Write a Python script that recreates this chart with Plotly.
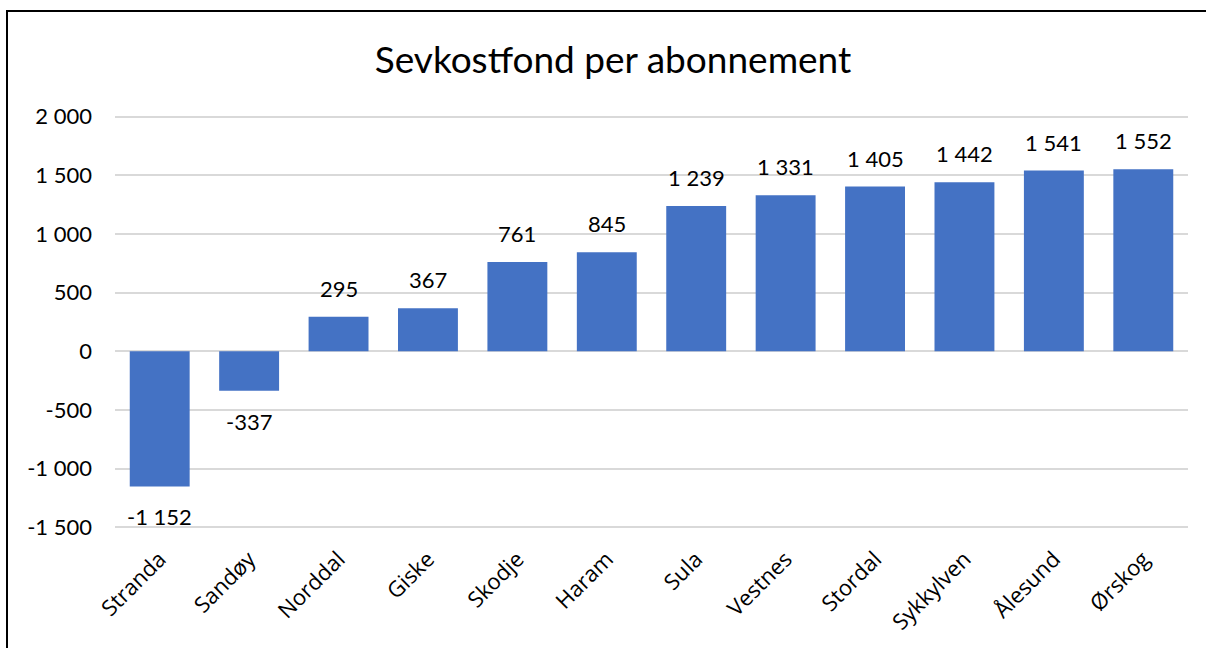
import plotly.graph_objects as go

kommuner = ['Stranda', 'Sandøy', 'Norddal', 'Giske', 'Skodje', 'Haram', 'Sula',
            'Vestnes', 'Stordal', 'Sykkylven', 'Ålesund', 'Ørskog']
verdier = [-1152, -337, 295, 367, 761, 845, 1239, 1331, 1405, 1442, 1541, 1552]

tick_vals = [-1500, -1000, -500, 0, 500, 1000, 1500, 2000]


def fmt(v):
    # norsk tusenskille med mellomrom
    s = f"{abs(v):,}".replace(",", " ")
    return ("-" if v < 0 else "") + s


etiketter = [fmt(v) for v in verdier]
tick_text = [fmt(v) for v in tick_vals]

fig = go.Figure()
fig.add_trace(go.Bar(
    x=kommuner,
    y=verdier,
    marker=dict(color='#4472C4', line=dict(width=0)),
))

# dataetiketter litt unna søylene, som i Excel
for k, v, t in zip(kommuner, verdier, etiketter):
    fig.add_annotation(
        x=k, y=v, text=t, showarrow=False,
        yanchor='bottom' if v >= 0 else 'top',
        yshift=13 if v >= 0 else -15,
        font=dict(family='Lato', size=22, color='#000000'),
    )

fig.update_layout(
    width=1206, height=648,
    margin=dict(l=115, r=18, t=112, b=116),
    paper_bgcolor='white', plot_bgcolor='white',
    showlegend=False,
    bargap=0.33,
    title=dict(text='Sevkostfond per abonnement', x=613 / 1206, xanchor='center',
               y=1 - 60 / 648, yanchor='middle',
               font=dict(family='Lato', size=37, color='#000000')),
    xaxis=dict(
        tickangle=-45,
        tickfont=dict(family='Open Sans', size=22, color='#000000'),
        showgrid=False, showline=False, ticks='', zeroline=False,
        ticklabelstandoff=9, automargin=False,
    ),
    yaxis=dict(
        range=[-1540, 2040],
        tickvals=tick_vals, ticktext=tick_text,
        tickfont=dict(family='Lato', size=22, color='#000000'),
        showgrid=True, gridcolor='#D9D9D9', gridwidth=1.5,
        zeroline=True, zerolinecolor='#D9D9D9', zerolinewidth=1.5,
        showline=False, ticks='', ticklabelstandoff=22,
        automargin=False,
    ),
)

# ramme rundt diagrammet (avskåret til høyre og nederst)
fig.add_shape(type='rect', xref='paper', yref='paper',
              x0=(7 - 115) / 1073, x1=1.1, y0=-0.5, y1=(532 - 11) / 420,
              line=dict(color='#000000', width=2), layer='above')

fig.write_html('out.html', config={'displayModeBar': False},
               post_script="document.body.style.margin='0';")
